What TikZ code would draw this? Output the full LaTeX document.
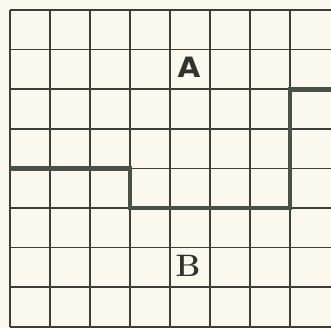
\documentclass[tikz,border=0pt]{standalone}
\usepackage{fontspec}
\newfontfamily\sansA{DejaVu Sans}
\definecolor{paper}{RGB}{251,249,238}
\definecolor{gridc}{RGB}{62,62,56}
\definecolor{bound}{RGB}{72,82,72}
\definecolor{ink}{RGB}{50,50,46}
\begin{document}
\begin{tikzpicture}[x=1pt,y=-1pt,
  gridline/.style={draw=gridc, line width=1.7pt},
  boundary/.style={draw=bound, line width=4.8pt, line join=miter, line cap=butt},
  letter/.style={inner sep=0pt, text=ink}]
\fill[fill=paper] (0,0) rectangle (331,328);
\useasboundingbox (0,0) rectangle (331,328);
% horizontal grid lines
\foreach \yy in {10,49.6,89.2,128.8,168.4,208,247.6,287.2,326.8}
  \draw[gridline] (10,\yy) -- (331,\yy);
% vertical grid lines
\foreach \xx in {10,50,90,130,170,210,250,290}
  \draw[gridline] (\xx,10) -- (\xx,326.8);
% boundary path
\coordinate (p0) at (10,168.4);
\coordinate (p1) at (130,168.4);
\coordinate (p2) at (130,208);
\coordinate (p3) at (290,208);
\coordinate (p4) at (290,89.2);
\coordinate (p5) at (331,89.2);
\draw[boundary] (p0) -- (p1) -- (p2) -- (p3) -- (p4) -- (p5);
% labels
\node[letter] (A) at (189,67) {\sansA\bfseries\fontsize{28}{32}\selectfont\scalebox{1.05}[1]{A}};
\node[letter] (B) at (188,266) {\bfseries\fontsize{31}{36}\selectfont B};
\end{tikzpicture}
\end{document}
